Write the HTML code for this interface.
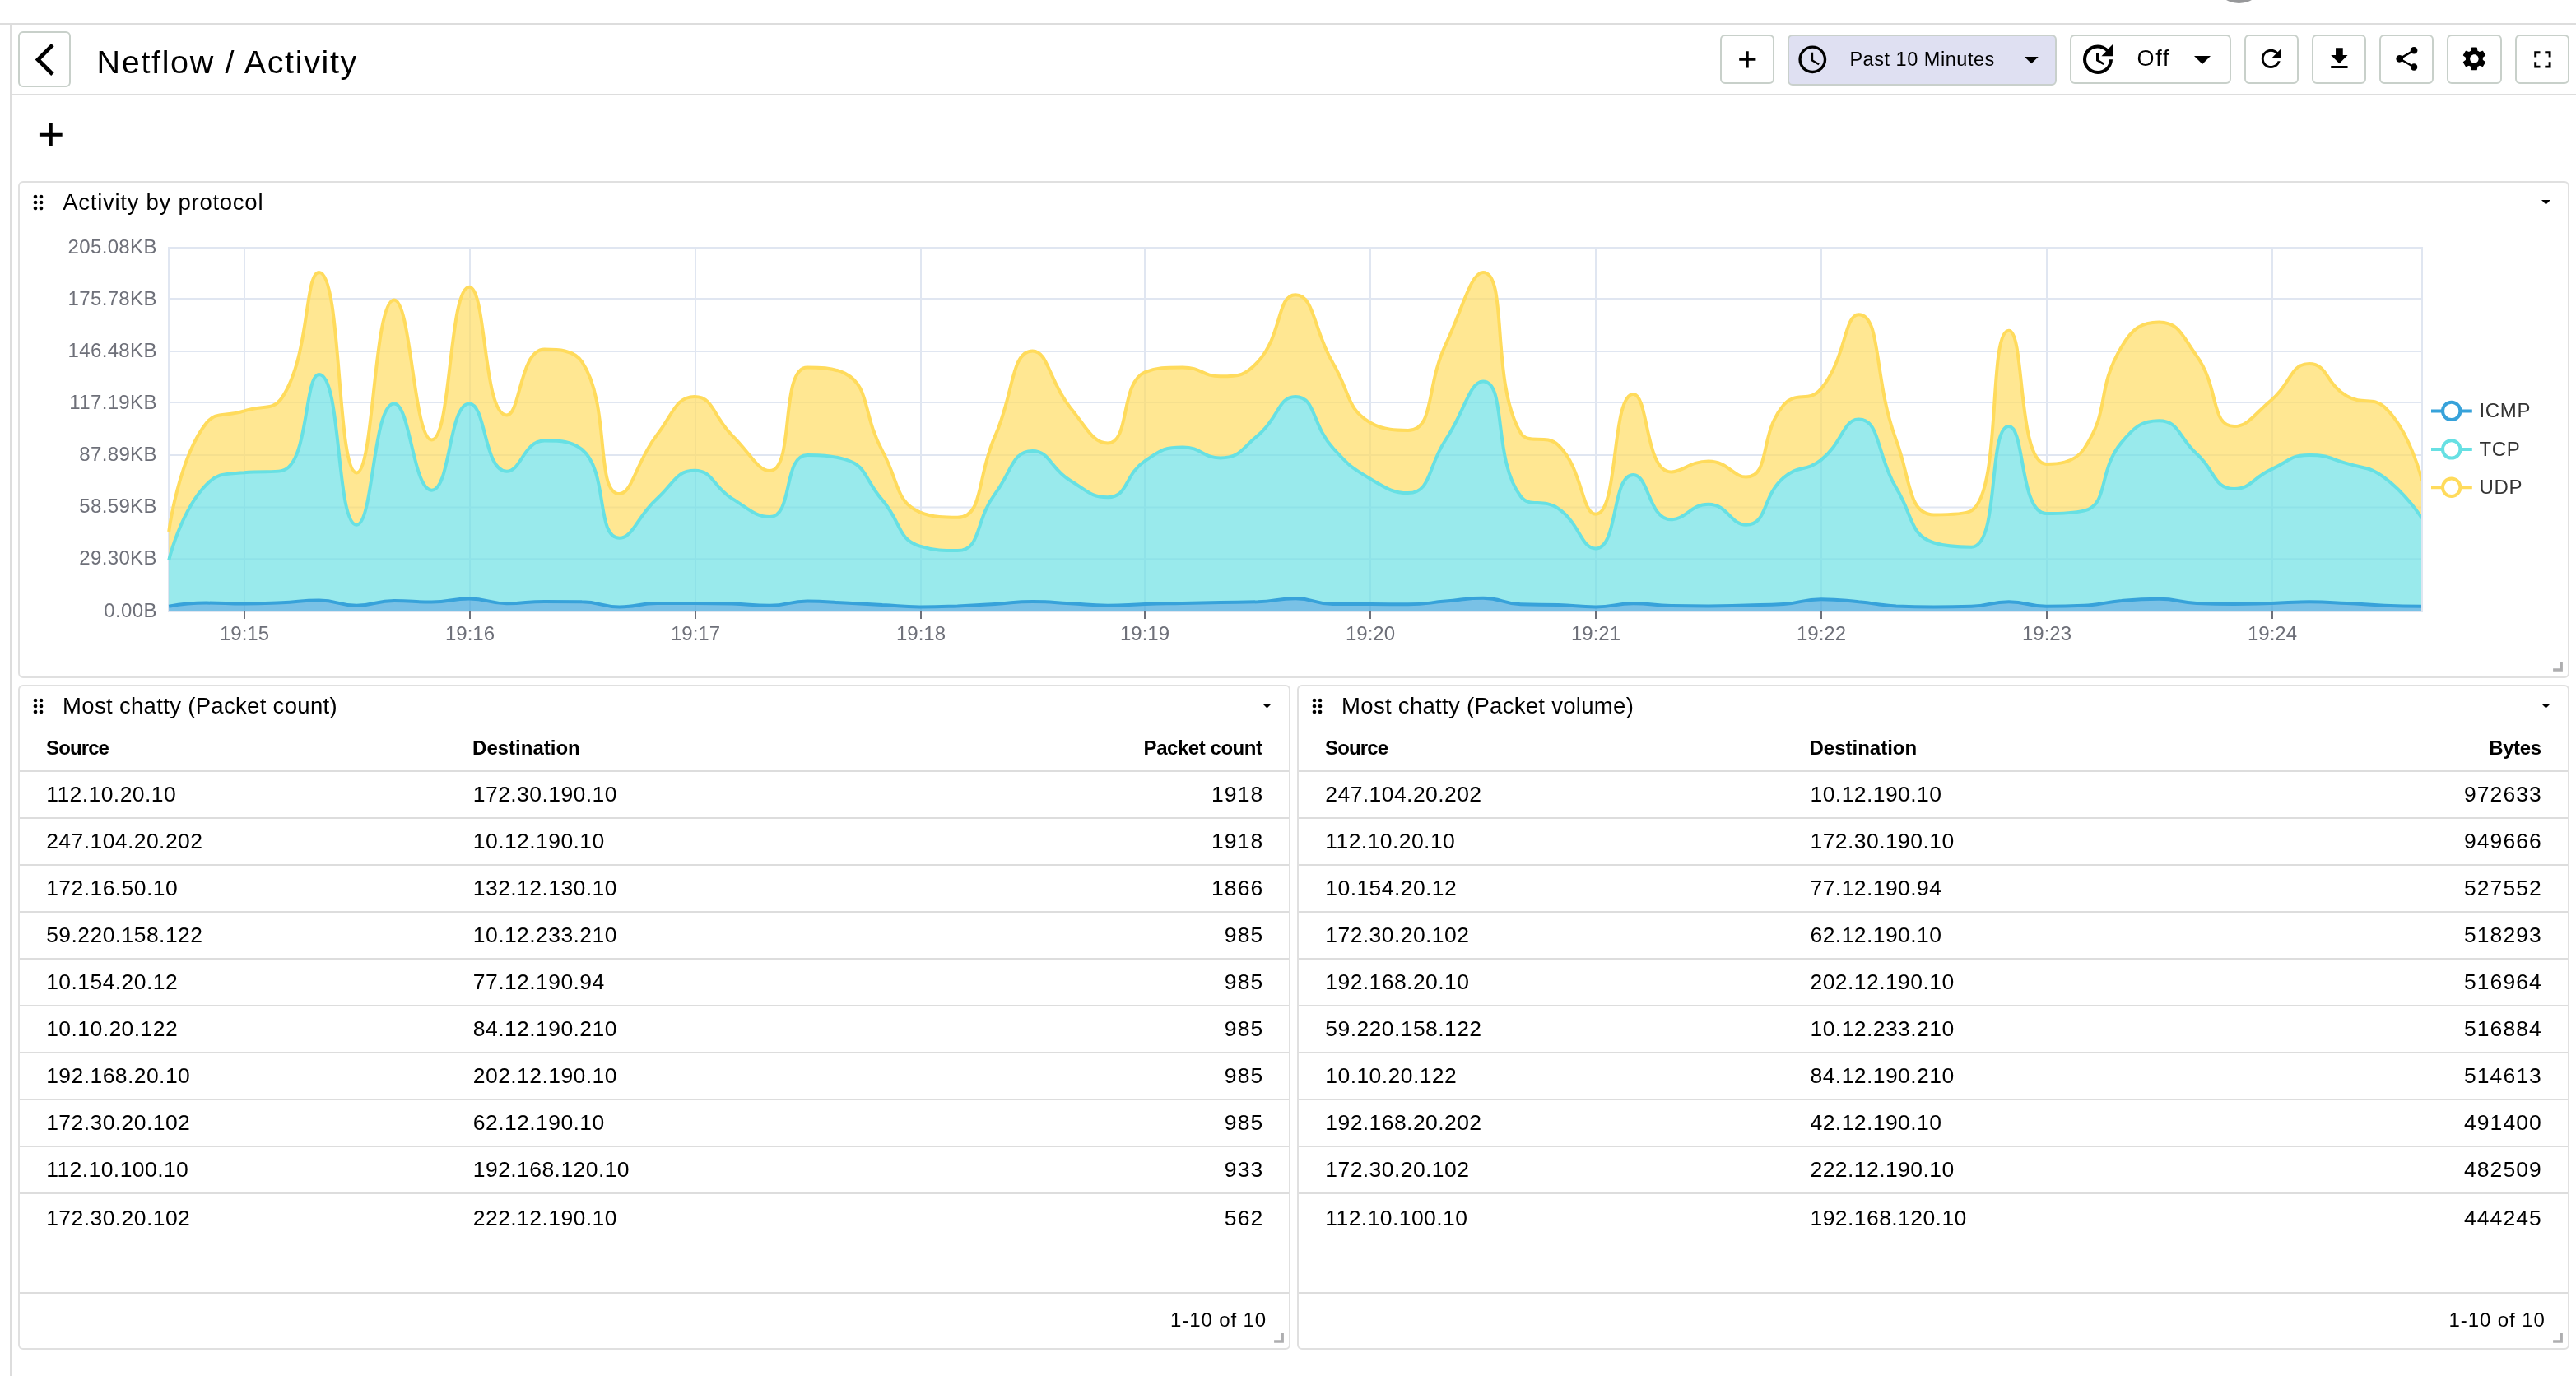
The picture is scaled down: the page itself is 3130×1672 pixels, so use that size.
<!DOCTYPE html>
<html lang="en"><head><meta charset="utf-8"><title>Netflow / Activity</title>
<style>
html,body{margin:0;padding:0;background:#fff;}
body{width:3130px;height:1672px;position:relative;overflow:hidden;font-family:"Liberation Sans", sans-serif;}
#root{position:absolute;left:0;top:0;width:3130px;height:1672px;will-change:transform;}
.t{position:absolute;white-space:nowrap;}
.ic{position:absolute;display:block;}
.ln{position:absolute;background:#ddd;}
.btn{position:absolute;box-sizing:border-box;border:2px solid #c8d0ca;border-radius:6px;background:#fff;}
.panel{position:absolute;box-sizing:border-box;border:2px solid #e0e0e0;border-radius:6px;background:#fff;}
.dot{position:absolute;width:4.4px;height:4.4px;border-radius:50%;background:#000;}
svg text{font-family:"Liberation Sans", sans-serif;}
</style></head><body><div id="root">
<div style="position:absolute;left:2687.6px;top:-61.6px;width:65.4px;height:65.4px;border-radius:50%;background:#97989a"></div>
<div class="ln" style="left:0;top:28px;width:3130px;height:2px"></div>
<div class="ln" style="left:12px;top:30px;width:2px;height:1642px"></div>
<div class="ln" style="left:14px;top:114px;width:3116px;height:2px"></div>
<div class="btn" style="left:22.00px;top:38.00px;width:64.00px;height:68.00px;"></div>
<svg class="ic" style="left:31.00px;top:48.50px;width:46.80px;height:46.80px" viewBox="0 0 24 24"><path d="M17.77 3.77 16 2 6 12l10 10 1.77-1.77L9.54 12z" fill="#000"/></svg>
<div class="t" style="top:53.15px;font-size:39.50px;line-height:45.39px;font-weight:400;color:#000;letter-spacing:1.660px;left:117.60px;">Netflow / Activity</div>
<div class="btn" style="left:2090.00px;top:42.00px;width:66.00px;height:60.00px;"></div>
<svg class="ic" style="left:2105.60px;top:54.50px;width:34.60px;height:34.60px" viewBox="0 0 24 24"><path d="M19 13h-6v6h-2v-6H5v-2h6V5h2v6h6v2z" fill="#000"/></svg>
<div class="btn" style="left:2172.00px;top:42.00px;width:327.00px;height:62.00px;background:#dfe0f2;border-color:#c9d0cc;"></div>
<svg class="ic" style="left:2182.10px;top:51.90px;width:40.60px;height:40.60px" viewBox="0 0 24 24"><path d="M11.99 2C6.47 2 2 6.48 2 12s4.47 10 9.99 10C17.52 22 22 17.52 22 12S17.52 2 11.99 2zM12 20c-4.42 0-8-3.58-8-8s3.58-8 8-8 8 3.58 8 8-3.58 8-8 8zm.5-13H11v6l5.25 3.15.75-1.23-4.5-2.67z" fill="#000"/></svg>
<div class="t" style="top:58.53px;font-size:23.50px;line-height:27.00px;font-weight:400;color:#000;letter-spacing:0.530px;left:2247.40px;">Past 10 Minutes</div>
<svg class="ic" style="left:2448.20px;top:51.70px;width:40.60px;height:40.60px" viewBox="0 0 24 24"><path d="M7 10l5 5 5-5z" fill="#000"/></svg>
<div class="btn" style="left:2515.00px;top:42.00px;width:196.00px;height:60.00px;"></div>
<svg class="ic" style="left:2525.20px;top:48.00px;width:48.00px;height:48.00px" viewBox="0 0 24 24"><path d="M21 10.12h-6.78l2.74-2.82c-2.73-2.7-7.15-2.8-9.88-.1-2.73 2.71-2.73 7.08 0 9.79s7.15 2.71 9.88 0C18.32 15.65 19 14.08 19 12.1h2c0 1.98-.88 4.55-2.64 6.29-3.51 3.48-9.21 3.48-12.72 0-3.5-3.47-3.53-9.11-.02-12.58s9.14-3.47 12.65 0L21 3v7.12zM12.5 8v4.25l3.5 2.08-.72 1.21L11 13V8h1.5z" fill="#000"/></svg>
<div class="t" style="top:56.06px;font-size:27.00px;line-height:31.02px;font-weight:400;color:#000;letter-spacing:1.800px;left:2596.40px;">Off</div>
<svg class="ic" style="left:2652.40px;top:48.00px;width:48.00px;height:48.00px" viewBox="0 0 24 24"><path d="M7 10l5 5 5-5z" fill="#000"/></svg>
<div class="btn" style="left:2727.00px;top:42.00px;width:66.00px;height:60.00px;"></div>
<svg class="ic" style="left:2742.30px;top:54.20px;width:34.80px;height:34.80px" viewBox="0 0 24 24"><path d="M17.65 6.35C16.2 4.9 14.21 4 12 4c-4.42 0-7.99 3.58-7.99 8s3.57 8 7.99 8c3.73 0 6.84-2.55 7.73-6h-2.08c-.82 2.33-3.04 4-5.65 4-3.31 0-6-2.69-6-6s2.69-6 6-6c1.66 0 3.14.69 4.22 1.78L13 11h7V4l-2.35 2.35z" fill="#000"/></svg>
<div class="btn" style="left:2809.00px;top:42.00px;width:66.00px;height:60.00px;"></div>
<svg class="ic" style="left:2824.60px;top:54.40px;width:34.80px;height:34.80px" viewBox="0 0 24 24"><path d="M19 9h-4V3H9v6H5l7 7 7-7zM5 18v2h14v-2H5z" fill="#000"/></svg>
<div class="btn" style="left:2891.00px;top:42.00px;width:66.00px;height:60.00px;"></div>
<svg class="ic" style="left:2906.60px;top:54.30px;width:34.80px;height:34.80px" viewBox="0 0 24 24"><path d="M18 16.08c-.76 0-1.44.3-1.96.77L8.91 12.7c.05-.23.09-.46.09-.7s-.04-.47-.09-.7l7.05-4.11c.54.5 1.25.81 2.04.81 1.66 0 3-1.34 3-3s-1.34-3-3-3-3 1.34-3 3c0 .24.04.47.09.7L8.04 9.81C7.5 9.31 6.79 9 6 9c-1.66 0-3 1.34-3 3s1.34 3 3 3c.79 0 1.5-.31 2.04-.81l7.12 4.16c-.05.21-.08.43-.08.65 0 1.61 1.31 2.92 2.92 2.92 1.61 0 2.92-1.31 2.92-2.92s-1.31-2.92-2.92-2.92z" fill="#000"/></svg>
<div class="btn" style="left:2973.00px;top:42.00px;width:67.00px;height:60.00px;"></div>
<svg class="ic" style="left:2989.30px;top:54.30px;width:34.80px;height:34.80px" viewBox="0 0 24 24"><path d="M19.14 12.94c.04-.3.06-.61.06-.94 0-.32-.02-.64-.07-.94l2.03-1.58c.18-.14.23-.41.12-.61l-1.92-3.32c-.12-.22-.37-.29-.59-.22l-2.39.96c-.5-.38-1.03-.7-1.62-.94l-.36-2.54c-.04-.24-.24-.41-.48-.41h-3.84c-.24 0-.43.17-.47.41l-.36 2.54c-.59.24-1.13.57-1.62.94l-2.39-.96c-.22-.08-.47 0-.59.22L2.74 8.87c-.12.21-.08.47.12.61l2.03 1.58c-.05.3-.09.63-.09.94s.02.64.07.94l-2.03 1.58c-.18.14-.23.41-.12.61l1.92 3.32c.12.22.37.29.59.22l2.39-.96c.5.38 1.03.7 1.62.94l.36 2.54c.05.24.24.41.48.41h3.84c.24 0 .44-.17.47-.41l.36-2.54c.59-.24 1.13-.56 1.62-.94l2.39.96c.22.08.47 0 .59-.22l1.92-3.32c.12-.22.07-.47-.12-.61l-2.01-1.58zM12 15.6c-1.98 0-3.6-1.62-3.6-3.6s1.62-3.6 3.6-3.6 3.6 1.62 3.6 3.6-1.62 3.6-3.6 3.6z" fill="#000"/></svg>
<div class="btn" style="left:3056.00px;top:42.00px;width:66.00px;height:60.00px;"></div>
<svg class="ic" style="left:3071.60px;top:54.60px;width:34.80px;height:34.80px" viewBox="0 0 24 24"><path d="M7 14H5v5h5v-2H7v-3zm-2-4h2V7h3V5H5v5zm12 7h-3v2h5v-5h-2v3zM14 5v2h3v3h2V5h-5z" fill="#000"/></svg>
<svg class="ic" style="left:38.20px;top:140.10px;width:47.60px;height:47.60px" viewBox="0 0 24 24"><path d="M19 13h-6v6h-2v-6H5v-2h6V5h2v6h6v2z" fill="#000"/></svg>
<div class="panel" style="left:22.00px;top:220.00px;width:3100.00px;height:604.00px;"></div>
<svg class="ic" style="left:39.5px;top:236.0px;width:13px;height:20px" viewBox="0 0 13 20"><circle cx="3.0" cy="3.0" r="2.35"/><circle cx="3.0" cy="10.0" r="2.35"/><circle cx="3.0" cy="17.0" r="2.35"/><circle cx="10.0" cy="3.0" r="2.35"/><circle cx="10.0" cy="10.0" r="2.35"/><circle cx="10.0" cy="17.0" r="2.35"/></svg>
<div class="t" style="top:229.81px;font-size:27.50px;line-height:31.60px;font-weight:400;color:#000;letter-spacing:0.740px;left:76.20px;">Activity by protocol</div>
<svg class="ic" style="left:3088px;top:243px;width:11px;height:5.7px" viewBox="0 0 10 5"><path d="M0 0h10L5 5z"/></svg>
<svg class="ic" style="left:3102px;top:804px;width:12px;height:12px" viewBox="0 0 12 12"><path d="M8.2 0H11.9V11.8H0.1V8.2H8.2Z" fill="#aeaeb0"/></svg>
<svg class="ic" style="left:0;top:222px;width:3130px;height:600px" viewBox="0 222 3130 600">
<line x1="204" x2="2944" y1="301.0" y2="301.0" stroke="#E0E6F1" stroke-width="2"/>
<line x1="204" x2="2944" y1="363.0" y2="363.0" stroke="#E0E6F1" stroke-width="2"/>
<line x1="204" x2="2944" y1="427.0" y2="427.0" stroke="#E0E6F1" stroke-width="2"/>
<line x1="204" x2="2944" y1="489.0" y2="489.0" stroke="#E0E6F1" stroke-width="2"/>
<line x1="204" x2="2944" y1="553.0" y2="553.0" stroke="#E0E6F1" stroke-width="2"/>
<line x1="204" x2="2944" y1="616.5" y2="616.5" stroke="#E0E6F1" stroke-width="2"/>
<line x1="204" x2="2944" y1="679.3" y2="679.3" stroke="#E0E6F1" stroke-width="2"/>
<line x1="204" x2="2944" y1="743.0" y2="743.0" stroke="#E0E6F1" stroke-width="2"/>
<line x1="205.0" x2="205.0" y1="300" y2="744" stroke="#E0E6F1" stroke-width="2"/>
<line x1="2943.0" x2="2943.0" y1="300" y2="744" stroke="#E0E6F1" stroke-width="2"/>
<line x1="297.0" x2="297.0" y1="300" y2="744" stroke="#E0E6F1" stroke-width="2"/>
<line x1="571.0" x2="571.0" y1="300" y2="744" stroke="#E0E6F1" stroke-width="2"/>
<line x1="845.0" x2="845.0" y1="300" y2="744" stroke="#E0E6F1" stroke-width="2"/>
<line x1="1119.0" x2="1119.0" y1="300" y2="744" stroke="#E0E6F1" stroke-width="2"/>
<line x1="1391.0" x2="1391.0" y1="300" y2="744" stroke="#E0E6F1" stroke-width="2"/>
<line x1="1665.0" x2="1665.0" y1="300" y2="744" stroke="#E0E6F1" stroke-width="2"/>
<line x1="1939.0" x2="1939.0" y1="300" y2="744" stroke="#E0E6F1" stroke-width="2"/>
<line x1="2213.0" x2="2213.0" y1="300" y2="744" stroke="#E0E6F1" stroke-width="2"/>
<line x1="2487.0" x2="2487.0" y1="300" y2="744" stroke="#E0E6F1" stroke-width="2"/>
<line x1="2761.0" x2="2761.0" y1="300" y2="744" stroke="#E0E6F1" stroke-width="2"/>
<clipPath id="gc"><rect x="203" y="290" width="2739.1" height="454"/></clipPath>
<g clip-path="url(#gc)">
<path d="M205.2 736.7C205.2 736.7 228 732.6 250.8 732.6C273.6 732.6 273.6 733.6 296.5 733.6C319.3 733.6 319.3 733.3 342.1 732.3C364.9 731.3 365 729.5 387.7 729.5C410.6 729.5 410.5 735.7 433.3 735.7C456.1 735.7 456.1 729.9 479 729.9C501.7 729.9 501.8 731.6 524.6 731.6C547.4 731.6 547.4 727.5 570.2 727.5C593.1 727.5 593 733.3 615.8 733.3C638.6 733.3 638.6 730.9 661.5 730.9C684.3 730.9 684.4 730.9 707.1 731.3C730 731.6 729.9 737.4 752.7 737.4C775.5 737.4 775.5 733 798.3 733C821.1 733 821.2 733 844 733C866.8 733 866.8 733 889.6 733.6C912.4 734.3 912.5 735.7 935.2 735.7C958.1 735.7 958 730.6 980.9 730.6C1003.6 730.6 1003.7 731.5 1026.5 732.6C1049.3 733.7 1049.3 733.8 1072.1 735C1094.9 736.2 1094.9 737.4 1117.7 737.4C1140.5 737.4 1140.6 737.2 1163.4 736.4C1186.2 735.5 1186.2 735.4 1209 734C1231.8 732.6 1231.8 730.9 1254.6 730.9C1277.4 730.9 1277.4 732.1 1300.2 733.3C1323.1 734.5 1323 735.7 1345.9 735.7C1368.7 735.7 1368.7 734.7 1391.5 734C1414.3 733.3 1414.3 733.5 1437.1 733C1459.9 732.5 1459.9 732.4 1482.7 731.9C1505.6 731.5 1505.6 731.9 1528.4 731.3C1551.2 730.6 1551.3 727.2 1574 727.2C1596.9 727.2 1596.7 734 1619.6 734C1642.3 734 1642.4 734 1665.3 734C1688.1 734 1688.1 734.3 1710.9 734.3C1733.7 734.3 1733.7 732.5 1756.5 730.6C1779.3 728.7 1779.4 726.8 1802.1 726.8C1825.1 726.8 1824.8 733.6 1847.8 734.3C1870.4 735 1870.6 734.3 1893.4 735C1916.2 735.7 1916.2 737.4 1939 737.4C1961.9 737.4 1961.8 733.3 1984.6 733.3C2007.4 733.3 2007.4 735.7 2030.3 736C2053.1 736.4 2053.1 736.4 2075.9 736.4C2098.7 736.4 2098.7 736 2121.5 735.4C2144.3 734.8 2144.4 735.4 2167.1 734C2190 732.6 2189.9 728.2 2212.8 728.2C2235.5 728.2 2235.6 729.2 2258.4 731.3C2281.3 733.3 2281.1 735.3 2304 736.4C2326.8 737.4 2326.8 737.4 2349.7 737.4C2372.5 737.4 2372.5 737.4 2395.3 736.7C2418.2 736 2418.1 731.3 2440.9 731.3C2463.7 731.3 2463.6 736.7 2486.5 736.7C2509.3 736.7 2509.4 736.7 2532.2 735.7C2555.1 734.7 2554.9 731.9 2577.8 729.9C2600.5 727.9 2600.7 727.8 2623.4 727.8C2646.3 727.8 2646.2 731.9 2669 733C2691.8 734 2691.9 734 2714.7 734C2737.5 734 2737.5 733.6 2760.3 733C2783.1 732.3 2783.1 731.3 2805.9 731.3C2828.7 731.3 2828.7 731.9 2851.5 733C2874.4 734.1 2874.3 734.8 2897.2 735.7C2920 736.6 2942.8 736.7 2942.8 736.7L2942.8 742L205.2 742Z" fill="#37A2DA" fill-opacity="0.67"/>
<path d="M205.2 680.7C205.2 680.7 219.7 620.3 250.8 588.8C265.4 574.2 273.1 576.3 296.5 574.2C318.7 572.1 329.9 574.2 342.1 572.1C375.5 566.5 369.4 455 387.7 455C415.1 455 408.2 637.7 433.3 637.7C453.9 637.7 452.8 490.5 479 490.5C498.4 490.5 501.8 595.7 524.6 595.7C547.4 595.7 545.2 490.5 570.2 490.5C590.8 490.5 587.8 572.8 615.8 572.8C633.4 572.8 636.1 535.6 661.5 535.6C681.7 535.6 694 535.6 707.1 546.1C739.7 572.6 723.6 653.7 752.7 653.7C769.2 653.7 773.8 627.9 798.3 605.9C819.5 586.9 821.2 571.8 844 571.8C866.8 571.8 865.5 591 889.6 605.9C911.1 619.2 918.5 628.1 935.2 628.1C964.2 628.1 950.9 553 980.9 553C996.5 553 1008 553 1026.5 558.1C1053.6 565.6 1050.1 582.2 1072.1 607.6C1095.7 634.9 1089.8 655 1117.7 663.6C1135.5 669.1 1147.1 669.1 1163.4 669.1C1192.7 669.1 1184.2 633.1 1209 600.1C1229.8 572.5 1229.8 547.9 1254.6 547.9C1275.4 547.9 1275.7 568.6 1300.2 583.7C1321.4 596.8 1325.8 604.2 1345.9 604.2C1371.4 604.2 1365.6 577.1 1391.5 559.8C1411.2 546.7 1414.1 543.4 1437.1 543.4C1459.7 543.4 1461.2 556.4 1482.7 556.4C1506.9 556.4 1507.9 545.7 1528.4 529.1C1553.6 508.5 1553.1 481.9 1574 481.9C1598.7 481.9 1593.8 516.1 1619.6 544.4C1639.4 566.1 1640.2 567 1665.3 582C1685.9 594.4 1693.5 599.1 1710.9 599.1C1739.1 599.1 1734.4 567.3 1756.5 534.5C1780.1 499.5 1785.5 463.5 1802.1 463.5C1831.1 463.5 1813.4 558.2 1847.8 603.2C1859 617.9 1874.3 604.6 1893.4 617.9C1919.9 636.2 1920.8 666.4 1939 666.4C1966.5 666.4 1957.9 576.9 1984.6 576.9C2003.5 576.9 2003.3 631.2 2030.3 631.2C2049 631.2 2053.7 612.7 2075.9 612.7C2099.3 612.7 2102.5 637.7 2121.5 637.7C2148.2 637.7 2140.2 603.9 2167.1 580.6C2185.8 564.5 2193.2 574.1 2212.8 558.8C2238.8 538.5 2239.5 509.6 2258.4 509.6C2285.1 509.6 2279.4 552.4 2304 592.9C2325 627.4 2320.6 650.5 2349.7 659.5C2366.2 664.7 2384.8 664.7 2395.3 664.7C2430.4 664.7 2414.9 518.1 2440.9 518.1C2460.5 518.1 2453.9 624 2486.5 624C2499.5 624 2517.3 624 2532.2 620.6C2562.9 613.5 2548.5 572.7 2577.8 537.6C2594.1 518.1 2602.2 511.3 2623.4 511.3C2647.8 511.3 2646.6 530.9 2669 551.3C2692.2 572.2 2689.7 594 2714.7 594C2735.3 594 2736.8 580.6 2760.3 570.1C2782.5 560.1 2782.6 553 2805.9 553C2828.3 553 2829.2 556.5 2851.5 563.2C2874.8 570.2 2878 566.3 2897.2 580.3C2923.6 599.6 2942.8 629.8 2942.8 629.8L2942.8 736.7C2942.8 736.7 2920 736.6 2897.2 735.7C2874.3 734.8 2874.4 734.1 2851.5 733C2828.7 731.9 2828.7 731.3 2805.9 731.3C2783.1 731.3 2783.1 732.3 2760.3 733C2737.5 733.6 2737.5 734 2714.7 734C2691.9 734 2691.8 734 2669 733C2646.2 731.9 2646.3 727.8 2623.4 727.8C2600.7 727.8 2600.5 727.9 2577.8 729.9C2554.9 731.9 2555.1 734.7 2532.2 735.7C2509.4 736.7 2509.3 736.7 2486.5 736.7C2463.6 736.7 2463.7 731.3 2440.9 731.3C2418.1 731.3 2418.2 736 2395.3 736.7C2372.5 737.4 2372.5 737.4 2349.7 737.4C2326.8 737.4 2326.8 737.4 2304 736.4C2281.1 735.3 2281.3 733.3 2258.4 731.3C2235.6 729.2 2235.5 728.2 2212.8 728.2C2189.9 728.2 2190 732.6 2167.1 734C2144.4 735.4 2144.3 734.8 2121.5 735.4C2098.7 736 2098.7 736.4 2075.9 736.4C2053.1 736.4 2053.1 736.4 2030.3 736C2007.4 735.7 2007.4 733.3 1984.6 733.3C1961.8 733.3 1961.9 737.4 1939 737.4C1916.2 737.4 1916.2 735.7 1893.4 735C1870.6 734.3 1870.4 735 1847.8 734.3C1824.8 733.6 1825.1 726.8 1802.1 726.8C1779.4 726.8 1779.3 728.7 1756.5 730.6C1733.7 732.5 1733.7 734.3 1710.9 734.3C1688.1 734.3 1688.1 734 1665.3 734C1642.4 734 1642.3 734 1619.6 734C1596.7 734 1596.9 727.2 1574 727.2C1551.3 727.2 1551.2 730.6 1528.4 731.3C1505.6 731.9 1505.6 731.5 1482.7 731.9C1459.9 732.4 1459.9 732.5 1437.1 733C1414.3 733.5 1414.3 733.3 1391.5 734C1368.7 734.7 1368.7 735.7 1345.9 735.7C1323 735.7 1323.1 734.5 1300.2 733.3C1277.4 732.1 1277.4 730.9 1254.6 730.9C1231.8 730.9 1231.8 732.6 1209 734C1186.2 735.4 1186.2 735.5 1163.4 736.4C1140.6 737.2 1140.5 737.4 1117.7 737.4C1094.9 737.4 1094.9 736.2 1072.1 735C1049.3 733.8 1049.3 733.7 1026.5 732.6C1003.7 731.5 1003.6 730.6 980.9 730.6C958 730.6 958.1 735.7 935.2 735.7C912.5 735.7 912.4 734.3 889.6 733.6C866.8 733 866.8 733 844 733C821.2 733 821.1 733 798.3 733C775.5 733 775.5 737.4 752.7 737.4C729.9 737.4 730 731.6 707.1 731.3C684.4 730.9 684.3 730.9 661.5 730.9C638.6 730.9 638.6 733.3 615.8 733.3C593 733.3 593.1 727.5 570.2 727.5C547.4 727.5 547.4 731.6 524.6 731.6C501.8 731.6 501.7 729.9 479 729.9C456.1 729.9 456.1 735.7 433.3 735.7C410.5 735.7 410.6 729.5 387.7 729.5C365 729.5 364.9 731.3 342.1 732.3C319.3 733.3 319.3 733.6 296.5 733.6C273.6 733.6 273.6 732.6 250.8 732.6C228 732.6 205.2 736.7 205.2 736.7Z" fill="#67E0E3" fill-opacity="0.67"/>
<path d="M205.2 645.9C205.2 645.9 216.9 556.8 250.8 514C262.5 499.4 273.7 506.9 296.5 499.4C319.3 491.8 331.5 499.4 342.1 484C377.1 433 369.8 331 387.7 331C415.5 331 408.9 574.5 433.3 574.5C454.5 574.5 453.9 364.5 479 364.5C499.5 364.5 502.7 534.5 524.6 534.5C548.3 534.5 545.5 348.7 570.2 348.7C591.2 348.7 586.7 504.5 615.8 504.5C632.4 504.5 631.5 424.6 661.5 424.6C677.1 424.6 696.9 424.6 707.1 439.6C742.5 491.8 722.5 600.1 752.7 600.1C768.1 600.1 772.5 561.8 798.3 528.4C818.1 502.8 821.2 481.9 844 481.9C866.9 481.9 866.3 506 889.6 529.1C911.9 551.1 920.7 572.1 935.2 572.1C966.3 572.1 946.9 446.4 980.9 446.4C992.6 446.4 1012.5 446.4 1026.5 453.6C1058.1 469.9 1047.2 501.9 1072.1 547.9C1092.9 586.2 1087.9 610 1117.7 622.3C1133.5 628.8 1149.8 628.8 1163.4 628.8C1195.4 628.8 1186.6 579.6 1209 530.1C1232.2 478.6 1228.2 426.6 1254.6 426.6C1273.8 426.6 1274.5 463.3 1300.2 494.9C1320.1 519.3 1327.9 538.6 1345.9 538.6C1373.6 538.6 1360.5 464.6 1391.5 452.2C1406.1 446.4 1414.5 446.4 1437.1 446.4C1460.2 446.4 1460.4 457.3 1482.7 457.3C1506 457.3 1512.7 456.6 1528.4 439.6C1558.3 407.1 1551.4 358.3 1574 358.3C1597 358.3 1595.7 400.5 1619.6 441.3C1641.3 478.2 1635.7 496.7 1665.3 513.7C1681.3 522.9 1697.6 522.9 1710.9 522.9C1743.3 522.9 1732.1 470.1 1756.5 418.8C1777.7 374.1 1787.1 331 1802.1 331C1832.7 331 1810.9 464.9 1847.8 526.3C1856.6 541 1878.1 526.3 1893.4 541C1923.7 570.2 1921.5 624.7 1939 624.7C1967.1 624.7 1957.6 478.9 1984.6 478.9C2003.2 478.9 1998.8 573.5 2030.3 573.5C2044.5 573.5 2053.6 560.5 2075.9 560.5C2099.2 560.5 2106.3 579.6 2121.5 579.6C2151.9 579.6 2136.8 527.8 2167.1 492.2C2182.4 474.2 2197.7 490.5 2212.8 472.4C2243.3 435.5 2240.7 382.2 2258.4 382.2C2286.3 382.2 2276.1 460.6 2304 534.9C2321.8 582.1 2318.2 625.4 2349.7 625.4C2363.9 625.4 2387.5 625.4 2395.3 620.6C2433.1 597.3 2414.9 401.7 2440.9 401.7C2460.5 401.7 2451.2 563.9 2486.5 563.9C2496.8 563.9 2519.8 563.9 2532.2 545.5C2565.4 496 2545.5 476 2577.8 421.5C2591.1 399 2601.9 391.4 2623.4 391.4C2647.5 391.4 2651.4 407.9 2669 432.4C2697 471.2 2685.7 518.1 2714.7 518.1C2731.4 518.1 2738.9 503.6 2760.3 485.7C2784.5 465.5 2782.6 442 2805.9 442C2828.2 442 2826 466.6 2851.5 481.3C2871.7 492.9 2882.5 481.3 2897.2 494.6C2928.1 522.6 2942.8 583.7 2942.8 583.7L2942.8 629.8C2942.8 629.8 2923.6 599.6 2897.2 580.3C2878 566.3 2874.8 570.2 2851.5 563.2C2829.2 556.5 2828.3 553 2805.9 553C2782.6 553 2782.5 560.1 2760.3 570.1C2736.8 580.6 2735.3 594 2714.7 594C2689.7 594 2692.2 572.2 2669 551.3C2646.6 530.9 2647.8 511.3 2623.4 511.3C2602.2 511.3 2594.1 518.1 2577.8 537.6C2548.5 572.7 2562.9 613.5 2532.2 620.6C2517.3 624 2499.5 624 2486.5 624C2453.9 624 2460.5 518.1 2440.9 518.1C2414.9 518.1 2430.4 664.7 2395.3 664.7C2384.8 664.7 2366.2 664.7 2349.7 659.5C2320.6 650.5 2325 627.4 2304 592.9C2279.4 552.4 2285.1 509.6 2258.4 509.6C2239.5 509.6 2238.8 538.5 2212.8 558.8C2193.2 574.1 2185.8 564.5 2167.1 580.6C2140.2 603.9 2148.2 637.7 2121.5 637.7C2102.5 637.7 2099.3 612.7 2075.9 612.7C2053.7 612.7 2049 631.2 2030.3 631.2C2003.3 631.2 2003.5 576.9 1984.6 576.9C1957.9 576.9 1966.5 666.4 1939 666.4C1920.8 666.4 1919.9 636.2 1893.4 617.9C1874.3 604.6 1859 617.9 1847.8 603.2C1813.4 558.2 1831.1 463.5 1802.1 463.5C1785.5 463.5 1780.1 499.5 1756.5 534.5C1734.4 567.3 1739.1 599.1 1710.9 599.1C1693.5 599.1 1685.9 594.4 1665.3 582C1640.2 567 1639.4 566.1 1619.6 544.4C1593.8 516.1 1598.7 481.9 1574 481.9C1553.1 481.9 1553.6 508.5 1528.4 529.1C1507.9 545.7 1506.9 556.4 1482.7 556.4C1461.2 556.4 1459.7 543.4 1437.1 543.4C1414.1 543.4 1411.2 546.7 1391.5 559.8C1365.6 577.1 1371.4 604.2 1345.9 604.2C1325.8 604.2 1321.4 596.8 1300.2 583.7C1275.7 568.6 1275.4 547.9 1254.6 547.9C1229.8 547.9 1229.8 572.5 1209 600.1C1184.2 633.1 1192.7 669.1 1163.4 669.1C1147.1 669.1 1135.5 669.1 1117.7 663.6C1089.8 655 1095.7 634.9 1072.1 607.6C1050.1 582.2 1053.6 565.6 1026.5 558.1C1008 553 996.5 553 980.9 553C950.9 553 964.2 628.1 935.2 628.1C918.5 628.1 911.1 619.2 889.6 605.9C865.5 591 866.8 571.8 844 571.8C821.2 571.8 819.5 586.9 798.3 605.9C773.8 627.9 769.2 653.7 752.7 653.7C723.6 653.7 739.7 572.6 707.1 546.1C694 535.6 681.7 535.6 661.5 535.6C636.1 535.6 633.4 572.8 615.8 572.8C587.8 572.8 590.8 490.5 570.2 490.5C545.2 490.5 547.4 595.7 524.6 595.7C501.8 595.7 498.4 490.5 479 490.5C452.8 490.5 453.9 637.7 433.3 637.7C408.2 637.7 415.1 455 387.7 455C369.4 455 375.5 566.5 342.1 572.1C329.9 574.2 318.7 572.1 296.5 574.2C273.1 576.3 265.4 574.2 250.8 588.8C219.7 620.3 205.2 680.7 205.2 680.7Z" fill="#FFDB5C" fill-opacity="0.67"/>
<path d="M205.2 736.7C205.2 736.7 228 732.6 250.8 732.6C273.6 732.6 273.6 733.6 296.5 733.6C319.3 733.6 319.3 733.3 342.1 732.3C364.9 731.3 365 729.5 387.7 729.5C410.6 729.5 410.5 735.7 433.3 735.7C456.1 735.7 456.1 729.9 479 729.9C501.7 729.9 501.8 731.6 524.6 731.6C547.4 731.6 547.4 727.5 570.2 727.5C593.1 727.5 593 733.3 615.8 733.3C638.6 733.3 638.6 730.9 661.5 730.9C684.3 730.9 684.4 730.9 707.1 731.3C730 731.6 729.9 737.4 752.7 737.4C775.5 737.4 775.5 733 798.3 733C821.1 733 821.2 733 844 733C866.8 733 866.8 733 889.6 733.6C912.4 734.3 912.5 735.7 935.2 735.7C958.1 735.7 958 730.6 980.9 730.6C1003.6 730.6 1003.7 731.5 1026.5 732.6C1049.3 733.7 1049.3 733.8 1072.1 735C1094.9 736.2 1094.9 737.4 1117.7 737.4C1140.5 737.4 1140.6 737.2 1163.4 736.4C1186.2 735.5 1186.2 735.4 1209 734C1231.8 732.6 1231.8 730.9 1254.6 730.9C1277.4 730.9 1277.4 732.1 1300.2 733.3C1323.1 734.5 1323 735.7 1345.9 735.7C1368.7 735.7 1368.7 734.7 1391.5 734C1414.3 733.3 1414.3 733.5 1437.1 733C1459.9 732.5 1459.9 732.4 1482.7 731.9C1505.6 731.5 1505.6 731.9 1528.4 731.3C1551.2 730.6 1551.3 727.2 1574 727.2C1596.9 727.2 1596.7 734 1619.6 734C1642.3 734 1642.4 734 1665.3 734C1688.1 734 1688.1 734.3 1710.9 734.3C1733.7 734.3 1733.7 732.5 1756.5 730.6C1779.3 728.7 1779.4 726.8 1802.1 726.8C1825.1 726.8 1824.8 733.6 1847.8 734.3C1870.4 735 1870.6 734.3 1893.4 735C1916.2 735.7 1916.2 737.4 1939 737.4C1961.9 737.4 1961.8 733.3 1984.6 733.3C2007.4 733.3 2007.4 735.7 2030.3 736C2053.1 736.4 2053.1 736.4 2075.9 736.4C2098.7 736.4 2098.7 736 2121.5 735.4C2144.3 734.8 2144.4 735.4 2167.1 734C2190 732.6 2189.9 728.2 2212.8 728.2C2235.5 728.2 2235.6 729.2 2258.4 731.3C2281.3 733.3 2281.1 735.3 2304 736.4C2326.8 737.4 2326.8 737.4 2349.7 737.4C2372.5 737.4 2372.5 737.4 2395.3 736.7C2418.2 736 2418.1 731.3 2440.9 731.3C2463.7 731.3 2463.6 736.7 2486.5 736.7C2509.3 736.7 2509.4 736.7 2532.2 735.7C2555.1 734.7 2554.9 731.9 2577.8 729.9C2600.5 727.9 2600.7 727.8 2623.4 727.8C2646.3 727.8 2646.2 731.9 2669 733C2691.8 734 2691.9 734 2714.7 734C2737.5 734 2737.5 733.6 2760.3 733C2783.1 732.3 2783.1 731.3 2805.9 731.3C2828.7 731.3 2828.7 731.9 2851.5 733C2874.4 734.1 2874.3 734.8 2897.2 735.7C2920 736.6 2942.8 736.7 2942.8 736.7" fill="none" stroke="#37A2DA" stroke-width="4" stroke-linejoin="bevel"/>
<path d="M205.2 680.7C205.2 680.7 219.7 620.3 250.8 588.8C265.4 574.2 273.1 576.3 296.5 574.2C318.7 572.1 329.9 574.2 342.1 572.1C375.5 566.5 369.4 455 387.7 455C415.1 455 408.2 637.7 433.3 637.7C453.9 637.7 452.8 490.5 479 490.5C498.4 490.5 501.8 595.7 524.6 595.7C547.4 595.7 545.2 490.5 570.2 490.5C590.8 490.5 587.8 572.8 615.8 572.8C633.4 572.8 636.1 535.6 661.5 535.6C681.7 535.6 694 535.6 707.1 546.1C739.7 572.6 723.6 653.7 752.7 653.7C769.2 653.7 773.8 627.9 798.3 605.9C819.5 586.9 821.2 571.8 844 571.8C866.8 571.8 865.5 591 889.6 605.9C911.1 619.2 918.5 628.1 935.2 628.1C964.2 628.1 950.9 553 980.9 553C996.5 553 1008 553 1026.5 558.1C1053.6 565.6 1050.1 582.2 1072.1 607.6C1095.7 634.9 1089.8 655 1117.7 663.6C1135.5 669.1 1147.1 669.1 1163.4 669.1C1192.7 669.1 1184.2 633.1 1209 600.1C1229.8 572.5 1229.8 547.9 1254.6 547.9C1275.4 547.9 1275.7 568.6 1300.2 583.7C1321.4 596.8 1325.8 604.2 1345.9 604.2C1371.4 604.2 1365.6 577.1 1391.5 559.8C1411.2 546.7 1414.1 543.4 1437.1 543.4C1459.7 543.4 1461.2 556.4 1482.7 556.4C1506.9 556.4 1507.9 545.7 1528.4 529.1C1553.6 508.5 1553.1 481.9 1574 481.9C1598.7 481.9 1593.8 516.1 1619.6 544.4C1639.4 566.1 1640.2 567 1665.3 582C1685.9 594.4 1693.5 599.1 1710.9 599.1C1739.1 599.1 1734.4 567.3 1756.5 534.5C1780.1 499.5 1785.5 463.5 1802.1 463.5C1831.1 463.5 1813.4 558.2 1847.8 603.2C1859 617.9 1874.3 604.6 1893.4 617.9C1919.9 636.2 1920.8 666.4 1939 666.4C1966.5 666.4 1957.9 576.9 1984.6 576.9C2003.5 576.9 2003.3 631.2 2030.3 631.2C2049 631.2 2053.7 612.7 2075.9 612.7C2099.3 612.7 2102.5 637.7 2121.5 637.7C2148.2 637.7 2140.2 603.9 2167.1 580.6C2185.8 564.5 2193.2 574.1 2212.8 558.8C2238.8 538.5 2239.5 509.6 2258.4 509.6C2285.1 509.6 2279.4 552.4 2304 592.9C2325 627.4 2320.6 650.5 2349.7 659.5C2366.2 664.7 2384.8 664.7 2395.3 664.7C2430.4 664.7 2414.9 518.1 2440.9 518.1C2460.5 518.1 2453.9 624 2486.5 624C2499.5 624 2517.3 624 2532.2 620.6C2562.9 613.5 2548.5 572.7 2577.8 537.6C2594.1 518.1 2602.2 511.3 2623.4 511.3C2647.8 511.3 2646.6 530.9 2669 551.3C2692.2 572.2 2689.7 594 2714.7 594C2735.3 594 2736.8 580.6 2760.3 570.1C2782.5 560.1 2782.6 553 2805.9 553C2828.3 553 2829.2 556.5 2851.5 563.2C2874.8 570.2 2878 566.3 2897.2 580.3C2923.6 599.6 2942.8 629.8 2942.8 629.8" fill="none" stroke="#67E0E3" stroke-width="4" stroke-linejoin="bevel"/>
<path d="M205.2 645.9C205.2 645.9 216.9 556.8 250.8 514C262.5 499.4 273.7 506.9 296.5 499.4C319.3 491.8 331.5 499.4 342.1 484C377.1 433 369.8 331 387.7 331C415.5 331 408.9 574.5 433.3 574.5C454.5 574.5 453.9 364.5 479 364.5C499.5 364.5 502.7 534.5 524.6 534.5C548.3 534.5 545.5 348.7 570.2 348.7C591.2 348.7 586.7 504.5 615.8 504.5C632.4 504.5 631.5 424.6 661.5 424.6C677.1 424.6 696.9 424.6 707.1 439.6C742.5 491.8 722.5 600.1 752.7 600.1C768.1 600.1 772.5 561.8 798.3 528.4C818.1 502.8 821.2 481.9 844 481.9C866.9 481.9 866.3 506 889.6 529.1C911.9 551.1 920.7 572.1 935.2 572.1C966.3 572.1 946.9 446.4 980.9 446.4C992.6 446.4 1012.5 446.4 1026.5 453.6C1058.1 469.9 1047.2 501.9 1072.1 547.9C1092.9 586.2 1087.9 610 1117.7 622.3C1133.5 628.8 1149.8 628.8 1163.4 628.8C1195.4 628.8 1186.6 579.6 1209 530.1C1232.2 478.6 1228.2 426.6 1254.6 426.6C1273.8 426.6 1274.5 463.3 1300.2 494.9C1320.1 519.3 1327.9 538.6 1345.9 538.6C1373.6 538.6 1360.5 464.6 1391.5 452.2C1406.1 446.4 1414.5 446.4 1437.1 446.4C1460.2 446.4 1460.4 457.3 1482.7 457.3C1506 457.3 1512.7 456.6 1528.4 439.6C1558.3 407.1 1551.4 358.3 1574 358.3C1597 358.3 1595.7 400.5 1619.6 441.3C1641.3 478.2 1635.7 496.7 1665.3 513.7C1681.3 522.9 1697.6 522.9 1710.9 522.9C1743.3 522.9 1732.1 470.1 1756.5 418.8C1777.7 374.1 1787.1 331 1802.1 331C1832.7 331 1810.9 464.9 1847.8 526.3C1856.6 541 1878.1 526.3 1893.4 541C1923.7 570.2 1921.5 624.7 1939 624.7C1967.1 624.7 1957.6 478.9 1984.6 478.9C2003.2 478.9 1998.8 573.5 2030.3 573.5C2044.5 573.5 2053.6 560.5 2075.9 560.5C2099.2 560.5 2106.3 579.6 2121.5 579.6C2151.9 579.6 2136.8 527.8 2167.1 492.2C2182.4 474.2 2197.7 490.5 2212.8 472.4C2243.3 435.5 2240.7 382.2 2258.4 382.2C2286.3 382.2 2276.1 460.6 2304 534.9C2321.8 582.1 2318.2 625.4 2349.7 625.4C2363.9 625.4 2387.5 625.4 2395.3 620.6C2433.1 597.3 2414.9 401.7 2440.9 401.7C2460.5 401.7 2451.2 563.9 2486.5 563.9C2496.8 563.9 2519.8 563.9 2532.2 545.5C2565.4 496 2545.5 476 2577.8 421.5C2591.1 399 2601.9 391.4 2623.4 391.4C2647.5 391.4 2651.4 407.9 2669 432.4C2697 471.2 2685.7 518.1 2714.7 518.1C2731.4 518.1 2738.9 503.6 2760.3 485.7C2784.5 465.5 2782.6 442 2805.9 442C2828.2 442 2826 466.6 2851.5 481.3C2871.7 492.9 2882.5 481.3 2897.2 494.6C2928.1 522.6 2942.8 583.7 2942.8 583.7" fill="none" stroke="#FFDB5C" stroke-width="4" stroke-linejoin="bevel"/>
</g>
<line x1="297.0" x2="297.0" y1="742.0" y2="752.0" stroke="#6E7079" stroke-width="2"/>
<text x="297.0" y="778" font-size="24" fill="#6E7079" text-anchor="middle">19:15</text>
<line x1="571.0" x2="571.0" y1="742.0" y2="752.0" stroke="#6E7079" stroke-width="2"/>
<text x="571.0" y="778" font-size="24" fill="#6E7079" text-anchor="middle">19:16</text>
<line x1="845.0" x2="845.0" y1="742.0" y2="752.0" stroke="#6E7079" stroke-width="2"/>
<text x="845.0" y="778" font-size="24" fill="#6E7079" text-anchor="middle">19:17</text>
<line x1="1119.0" x2="1119.0" y1="742.0" y2="752.0" stroke="#6E7079" stroke-width="2"/>
<text x="1119.0" y="778" font-size="24" fill="#6E7079" text-anchor="middle">19:18</text>
<line x1="1391.0" x2="1391.0" y1="742.0" y2="752.0" stroke="#6E7079" stroke-width="2"/>
<text x="1391.0" y="778" font-size="24" fill="#6E7079" text-anchor="middle">19:19</text>
<line x1="1665.0" x2="1665.0" y1="742.0" y2="752.0" stroke="#6E7079" stroke-width="2"/>
<text x="1665.0" y="778" font-size="24" fill="#6E7079" text-anchor="middle">19:20</text>
<line x1="1939.0" x2="1939.0" y1="742.0" y2="752.0" stroke="#6E7079" stroke-width="2"/>
<text x="1939.0" y="778" font-size="24" fill="#6E7079" text-anchor="middle">19:21</text>
<line x1="2213.0" x2="2213.0" y1="742.0" y2="752.0" stroke="#6E7079" stroke-width="2"/>
<text x="2213.0" y="778" font-size="24" fill="#6E7079" text-anchor="middle">19:22</text>
<line x1="2487.0" x2="2487.0" y1="742.0" y2="752.0" stroke="#6E7079" stroke-width="2"/>
<text x="2487.0" y="778" font-size="24" fill="#6E7079" text-anchor="middle">19:23</text>
<line x1="2761.0" x2="2761.0" y1="742.0" y2="752.0" stroke="#6E7079" stroke-width="2"/>
<text x="2761.0" y="778" font-size="24" fill="#6E7079" text-anchor="middle">19:24</text>
<text x="190.8" y="307.8" font-size="24" fill="#6E7079" text-anchor="end" letter-spacing="0.35">205.08KB</text>
<text x="190.8" y="370.9" font-size="24" fill="#6E7079" text-anchor="end" letter-spacing="0.35">175.78KB</text>
<text x="190.8" y="434.0" font-size="24" fill="#6E7079" text-anchor="end" letter-spacing="0.35">146.48KB</text>
<text x="190.8" y="497.1" font-size="24" fill="#6E7079" text-anchor="end" letter-spacing="0.35">117.19KB</text>
<text x="190.8" y="560.2" font-size="24" fill="#6E7079" text-anchor="end" letter-spacing="0.35">87.89KB</text>
<text x="190.8" y="623.3" font-size="24" fill="#6E7079" text-anchor="end" letter-spacing="0.35">58.59KB</text>
<text x="190.8" y="686.4" font-size="24" fill="#6E7079" text-anchor="end" letter-spacing="0.35">29.30KB</text>
<text x="190.8" y="749.5" font-size="24" fill="#6E7079" text-anchor="end" letter-spacing="0.35">0.00B</text>
<line x1="2954" x2="3003.8" y1="499.4" y2="499.4" stroke="#37A2DA" stroke-width="4"/>
<circle cx="2978.7" cy="499.4" r="10.7" fill="#fff" stroke="#37A2DA" stroke-width="4"/>
<text x="3012.6" y="507.1" font-size="24" fill="#333" letter-spacing="0.6">ICMP</text>
<line x1="2954" x2="3003.8" y1="545.9" y2="545.9" stroke="#67E0E3" stroke-width="4"/>
<circle cx="2978.7" cy="545.9" r="10.7" fill="#fff" stroke="#67E0E3" stroke-width="4"/>
<text x="3012.6" y="553.6" font-size="24" fill="#333" letter-spacing="0.6">TCP</text>
<line x1="2954" x2="3003.8" y1="592.3" y2="592.3" stroke="#FFDB5C" stroke-width="4"/>
<circle cx="2978.7" cy="592.3" r="10.7" fill="#fff" stroke="#FFDB5C" stroke-width="4"/>
<text x="3012.6" y="600.0" font-size="24" fill="#333" letter-spacing="0.6">UDP</text>
</svg>
<div class="panel" style="left:22.00px;top:832.00px;width:1546.00px;height:808.00px;"></div>
<svg class="ic" style="left:39.5px;top:848.0px;width:13px;height:20px" viewBox="0 0 13 20"><circle cx="3.0" cy="3.0" r="2.35"/><circle cx="3.0" cy="10.0" r="2.35"/><circle cx="3.0" cy="17.0" r="2.35"/><circle cx="10.0" cy="3.0" r="2.35"/><circle cx="10.0" cy="10.0" r="2.35"/><circle cx="10.0" cy="17.0" r="2.35"/></svg>
<div class="t" style="top:841.81px;font-size:27.50px;line-height:31.60px;font-weight:400;color:#000;letter-spacing:0.320px;left:76.10px;">Most chatty (Packet count)</div>
<svg class="ic" style="left:1533.9px;top:855px;width:11px;height:5.7px" viewBox="0 0 10 5"><path d="M0 0h10L5 5z"/></svg>
<div class="t" style="top:895.28px;font-size:24.00px;line-height:27.58px;font-weight:700;color:#000;letter-spacing:-0.880px;left:56.00px;">Source</div>
<div class="t" style="top:895.28px;font-size:24.00px;line-height:27.58px;font-weight:700;color:#000;left:574.10px;">Destination</div>
<div class="t" style="top:895.28px;font-size:24.00px;line-height:27.58px;font-weight:700;color:#000;letter-spacing:-0.450px;right:1596.45px;text-align:right;">Packet count</div>
<div class="ln" style="left:24.0px;top:936px;width:1542.0px;height:2px"></div>
<div class="t" style="top:950.02px;font-size:26.50px;line-height:30.45px;font-weight:400;color:#000;letter-spacing:0.430px;left:56.20px;">112.10.20.10</div>
<div class="t" style="top:950.02px;font-size:26.50px;line-height:30.45px;font-weight:400;color:#000;letter-spacing:0.430px;left:574.80px;">172.30.190.10</div>
<div class="t" style="top:950.02px;font-size:26.50px;line-height:30.45px;font-weight:400;color:#000;letter-spacing:1.100px;right:1594.70px;text-align:right;">1918</div>
<div class="ln" style="left:24.0px;top:993.0px;width:1542.0px;height:2px"></div>
<div class="t" style="top:1007.02px;font-size:26.50px;line-height:30.45px;font-weight:400;color:#000;letter-spacing:0.430px;left:56.20px;">247.104.20.202</div>
<div class="t" style="top:1007.02px;font-size:26.50px;line-height:30.45px;font-weight:400;color:#000;letter-spacing:0.430px;left:574.80px;">10.12.190.10</div>
<div class="t" style="top:1007.02px;font-size:26.50px;line-height:30.45px;font-weight:400;color:#000;letter-spacing:1.100px;right:1594.70px;text-align:right;">1918</div>
<div class="ln" style="left:24.0px;top:1050.0px;width:1542.0px;height:2px"></div>
<div class="t" style="top:1064.02px;font-size:26.50px;line-height:30.45px;font-weight:400;color:#000;letter-spacing:0.430px;left:56.20px;">172.16.50.10</div>
<div class="t" style="top:1064.02px;font-size:26.50px;line-height:30.45px;font-weight:400;color:#000;letter-spacing:0.430px;left:574.80px;">132.12.130.10</div>
<div class="t" style="top:1064.02px;font-size:26.50px;line-height:30.45px;font-weight:400;color:#000;letter-spacing:1.100px;right:1594.70px;text-align:right;">1866</div>
<div class="ln" style="left:24.0px;top:1107.0px;width:1542.0px;height:2px"></div>
<div class="t" style="top:1121.02px;font-size:26.50px;line-height:30.45px;font-weight:400;color:#000;letter-spacing:0.430px;left:56.20px;">59.220.158.122</div>
<div class="t" style="top:1121.02px;font-size:26.50px;line-height:30.45px;font-weight:400;color:#000;letter-spacing:0.430px;left:574.80px;">10.12.233.210</div>
<div class="t" style="top:1121.02px;font-size:26.50px;line-height:30.45px;font-weight:400;color:#000;letter-spacing:1.100px;right:1594.70px;text-align:right;">985</div>
<div class="ln" style="left:24.0px;top:1164.0px;width:1542.0px;height:2px"></div>
<div class="t" style="top:1178.02px;font-size:26.50px;line-height:30.45px;font-weight:400;color:#000;letter-spacing:0.430px;left:56.20px;">10.154.20.12</div>
<div class="t" style="top:1178.02px;font-size:26.50px;line-height:30.45px;font-weight:400;color:#000;letter-spacing:0.430px;left:574.80px;">77.12.190.94</div>
<div class="t" style="top:1178.02px;font-size:26.50px;line-height:30.45px;font-weight:400;color:#000;letter-spacing:1.100px;right:1594.70px;text-align:right;">985</div>
<div class="ln" style="left:24.0px;top:1221.0px;width:1542.0px;height:2px"></div>
<div class="t" style="top:1235.02px;font-size:26.50px;line-height:30.45px;font-weight:400;color:#000;letter-spacing:0.430px;left:56.20px;">10.10.20.122</div>
<div class="t" style="top:1235.02px;font-size:26.50px;line-height:30.45px;font-weight:400;color:#000;letter-spacing:0.430px;left:574.80px;">84.12.190.210</div>
<div class="t" style="top:1235.02px;font-size:26.50px;line-height:30.45px;font-weight:400;color:#000;letter-spacing:1.100px;right:1594.70px;text-align:right;">985</div>
<div class="ln" style="left:24.0px;top:1278.0px;width:1542.0px;height:2px"></div>
<div class="t" style="top:1292.02px;font-size:26.50px;line-height:30.45px;font-weight:400;color:#000;letter-spacing:0.430px;left:56.20px;">192.168.20.10</div>
<div class="t" style="top:1292.02px;font-size:26.50px;line-height:30.45px;font-weight:400;color:#000;letter-spacing:0.430px;left:574.80px;">202.12.190.10</div>
<div class="t" style="top:1292.02px;font-size:26.50px;line-height:30.45px;font-weight:400;color:#000;letter-spacing:1.100px;right:1594.70px;text-align:right;">985</div>
<div class="ln" style="left:24.0px;top:1335.0px;width:1542.0px;height:2px"></div>
<div class="t" style="top:1349.02px;font-size:26.50px;line-height:30.45px;font-weight:400;color:#000;letter-spacing:0.430px;left:56.20px;">172.30.20.102</div>
<div class="t" style="top:1349.02px;font-size:26.50px;line-height:30.45px;font-weight:400;color:#000;letter-spacing:0.430px;left:574.80px;">62.12.190.10</div>
<div class="t" style="top:1349.02px;font-size:26.50px;line-height:30.45px;font-weight:400;color:#000;letter-spacing:1.100px;right:1594.70px;text-align:right;">985</div>
<div class="ln" style="left:24.0px;top:1392.0px;width:1542.0px;height:2px"></div>
<div class="t" style="top:1406.02px;font-size:26.50px;line-height:30.45px;font-weight:400;color:#000;letter-spacing:0.430px;left:56.20px;">112.10.100.10</div>
<div class="t" style="top:1406.02px;font-size:26.50px;line-height:30.45px;font-weight:400;color:#000;letter-spacing:0.430px;left:574.80px;">192.168.120.10</div>
<div class="t" style="top:1406.02px;font-size:26.50px;line-height:30.45px;font-weight:400;color:#000;letter-spacing:1.100px;right:1594.70px;text-align:right;">933</div>
<div class="ln" style="left:24.0px;top:1449.0px;width:1542.0px;height:2px"></div>
<div class="t" style="top:1464.52px;font-size:26.50px;line-height:30.45px;font-weight:400;color:#000;letter-spacing:0.430px;left:56.20px;">172.30.20.102</div>
<div class="t" style="top:1464.52px;font-size:26.50px;line-height:30.45px;font-weight:400;color:#000;letter-spacing:0.430px;left:574.80px;">222.12.190.10</div>
<div class="t" style="top:1464.52px;font-size:26.50px;line-height:30.45px;font-weight:400;color:#000;letter-spacing:1.100px;right:1594.70px;text-align:right;">562</div>
<div class="ln" style="left:24.0px;top:1570px;width:1542.0px;height:2px"></div>
<div class="t" style="top:1590.18px;font-size:24.00px;line-height:27.58px;font-weight:400;color:#000;letter-spacing:0.900px;right:1590.90px;text-align:right;">1-10 of 10</div>
<svg class="ic" style="left:1548px;top:1620px;width:12px;height:12px" viewBox="0 0 12 12"><path d="M8.2 0H11.9V11.8H0.1V8.2H8.2Z" fill="#aeaeb0"/></svg>
<div class="panel" style="left:1576.00px;top:832.00px;width:1546.00px;height:808.00px;"></div>
<svg class="ic" style="left:1593.5px;top:848.0px;width:13px;height:20px" viewBox="0 0 13 20"><circle cx="3.0" cy="3.0" r="2.35"/><circle cx="3.0" cy="10.0" r="2.35"/><circle cx="3.0" cy="17.0" r="2.35"/><circle cx="10.0" cy="3.0" r="2.35"/><circle cx="10.0" cy="10.0" r="2.35"/><circle cx="10.0" cy="17.0" r="2.35"/></svg>
<div class="t" style="top:841.81px;font-size:27.50px;line-height:31.60px;font-weight:400;color:#000;letter-spacing:0.300px;left:1630.10px;">Most chatty (Packet volume)</div>
<svg class="ic" style="left:3087.9px;top:855px;width:11px;height:5.7px" viewBox="0 0 10 5"><path d="M0 0h10L5 5z"/></svg>
<div class="t" style="top:895.28px;font-size:24.00px;line-height:27.58px;font-weight:700;color:#000;letter-spacing:-0.880px;left:1610.10px;">Source</div>
<div class="t" style="top:895.28px;font-size:24.00px;line-height:27.58px;font-weight:700;color:#000;left:2198.50px;">Destination</div>
<div class="t" style="top:895.28px;font-size:24.00px;line-height:27.58px;font-weight:700;color:#000;letter-spacing:-0.400px;right:42.40px;text-align:right;">Bytes</div>
<div class="ln" style="left:1578.0px;top:936px;width:1542.0px;height:2px"></div>
<div class="t" style="top:950.02px;font-size:26.50px;line-height:30.45px;font-weight:400;color:#000;letter-spacing:0.430px;left:1610.30px;">247.104.20.202</div>
<div class="t" style="top:950.02px;font-size:26.50px;line-height:30.45px;font-weight:400;color:#000;letter-spacing:0.430px;left:2199.50px;">10.12.190.10</div>
<div class="t" style="top:950.02px;font-size:26.50px;line-height:30.45px;font-weight:400;color:#000;letter-spacing:1.100px;right:41.10px;text-align:right;">972633</div>
<div class="ln" style="left:1578.0px;top:993.0px;width:1542.0px;height:2px"></div>
<div class="t" style="top:1007.02px;font-size:26.50px;line-height:30.45px;font-weight:400;color:#000;letter-spacing:0.430px;left:1610.30px;">112.10.20.10</div>
<div class="t" style="top:1007.02px;font-size:26.50px;line-height:30.45px;font-weight:400;color:#000;letter-spacing:0.430px;left:2199.50px;">172.30.190.10</div>
<div class="t" style="top:1007.02px;font-size:26.50px;line-height:30.45px;font-weight:400;color:#000;letter-spacing:1.100px;right:41.10px;text-align:right;">949666</div>
<div class="ln" style="left:1578.0px;top:1050.0px;width:1542.0px;height:2px"></div>
<div class="t" style="top:1064.02px;font-size:26.50px;line-height:30.45px;font-weight:400;color:#000;letter-spacing:0.430px;left:1610.30px;">10.154.20.12</div>
<div class="t" style="top:1064.02px;font-size:26.50px;line-height:30.45px;font-weight:400;color:#000;letter-spacing:0.430px;left:2199.50px;">77.12.190.94</div>
<div class="t" style="top:1064.02px;font-size:26.50px;line-height:30.45px;font-weight:400;color:#000;letter-spacing:1.100px;right:41.10px;text-align:right;">527552</div>
<div class="ln" style="left:1578.0px;top:1107.0px;width:1542.0px;height:2px"></div>
<div class="t" style="top:1121.02px;font-size:26.50px;line-height:30.45px;font-weight:400;color:#000;letter-spacing:0.430px;left:1610.30px;">172.30.20.102</div>
<div class="t" style="top:1121.02px;font-size:26.50px;line-height:30.45px;font-weight:400;color:#000;letter-spacing:0.430px;left:2199.50px;">62.12.190.10</div>
<div class="t" style="top:1121.02px;font-size:26.50px;line-height:30.45px;font-weight:400;color:#000;letter-spacing:1.100px;right:41.10px;text-align:right;">518293</div>
<div class="ln" style="left:1578.0px;top:1164.0px;width:1542.0px;height:2px"></div>
<div class="t" style="top:1178.02px;font-size:26.50px;line-height:30.45px;font-weight:400;color:#000;letter-spacing:0.430px;left:1610.30px;">192.168.20.10</div>
<div class="t" style="top:1178.02px;font-size:26.50px;line-height:30.45px;font-weight:400;color:#000;letter-spacing:0.430px;left:2199.50px;">202.12.190.10</div>
<div class="t" style="top:1178.02px;font-size:26.50px;line-height:30.45px;font-weight:400;color:#000;letter-spacing:1.100px;right:41.10px;text-align:right;">516964</div>
<div class="ln" style="left:1578.0px;top:1221.0px;width:1542.0px;height:2px"></div>
<div class="t" style="top:1235.02px;font-size:26.50px;line-height:30.45px;font-weight:400;color:#000;letter-spacing:0.430px;left:1610.30px;">59.220.158.122</div>
<div class="t" style="top:1235.02px;font-size:26.50px;line-height:30.45px;font-weight:400;color:#000;letter-spacing:0.430px;left:2199.50px;">10.12.233.210</div>
<div class="t" style="top:1235.02px;font-size:26.50px;line-height:30.45px;font-weight:400;color:#000;letter-spacing:1.100px;right:41.10px;text-align:right;">516884</div>
<div class="ln" style="left:1578.0px;top:1278.0px;width:1542.0px;height:2px"></div>
<div class="t" style="top:1292.02px;font-size:26.50px;line-height:30.45px;font-weight:400;color:#000;letter-spacing:0.430px;left:1610.30px;">10.10.20.122</div>
<div class="t" style="top:1292.02px;font-size:26.50px;line-height:30.45px;font-weight:400;color:#000;letter-spacing:0.430px;left:2199.50px;">84.12.190.210</div>
<div class="t" style="top:1292.02px;font-size:26.50px;line-height:30.45px;font-weight:400;color:#000;letter-spacing:1.100px;right:41.10px;text-align:right;">514613</div>
<div class="ln" style="left:1578.0px;top:1335.0px;width:1542.0px;height:2px"></div>
<div class="t" style="top:1349.02px;font-size:26.50px;line-height:30.45px;font-weight:400;color:#000;letter-spacing:0.430px;left:1610.30px;">192.168.20.202</div>
<div class="t" style="top:1349.02px;font-size:26.50px;line-height:30.45px;font-weight:400;color:#000;letter-spacing:0.430px;left:2199.50px;">42.12.190.10</div>
<div class="t" style="top:1349.02px;font-size:26.50px;line-height:30.45px;font-weight:400;color:#000;letter-spacing:1.100px;right:41.10px;text-align:right;">491400</div>
<div class="ln" style="left:1578.0px;top:1392.0px;width:1542.0px;height:2px"></div>
<div class="t" style="top:1406.02px;font-size:26.50px;line-height:30.45px;font-weight:400;color:#000;letter-spacing:0.430px;left:1610.30px;">172.30.20.102</div>
<div class="t" style="top:1406.02px;font-size:26.50px;line-height:30.45px;font-weight:400;color:#000;letter-spacing:0.430px;left:2199.50px;">222.12.190.10</div>
<div class="t" style="top:1406.02px;font-size:26.50px;line-height:30.45px;font-weight:400;color:#000;letter-spacing:1.100px;right:41.10px;text-align:right;">482509</div>
<div class="ln" style="left:1578.0px;top:1449.0px;width:1542.0px;height:2px"></div>
<div class="t" style="top:1464.52px;font-size:26.50px;line-height:30.45px;font-weight:400;color:#000;letter-spacing:0.430px;left:1610.30px;">112.10.100.10</div>
<div class="t" style="top:1464.52px;font-size:26.50px;line-height:30.45px;font-weight:400;color:#000;letter-spacing:0.430px;left:2199.50px;">192.168.120.10</div>
<div class="t" style="top:1464.52px;font-size:26.50px;line-height:30.45px;font-weight:400;color:#000;letter-spacing:1.100px;right:41.10px;text-align:right;">444245</div>
<div class="ln" style="left:1578.0px;top:1570px;width:1542.0px;height:2px"></div>
<div class="t" style="top:1590.18px;font-size:24.00px;line-height:27.58px;font-weight:400;color:#000;letter-spacing:0.900px;right:37.30px;text-align:right;">1-10 of 10</div>
<svg class="ic" style="left:3102px;top:1620px;width:12px;height:12px" viewBox="0 0 12 12"><path d="M8.2 0H11.9V11.8H0.1V8.2H8.2Z" fill="#aeaeb0"/></svg>
</div></body></html>
